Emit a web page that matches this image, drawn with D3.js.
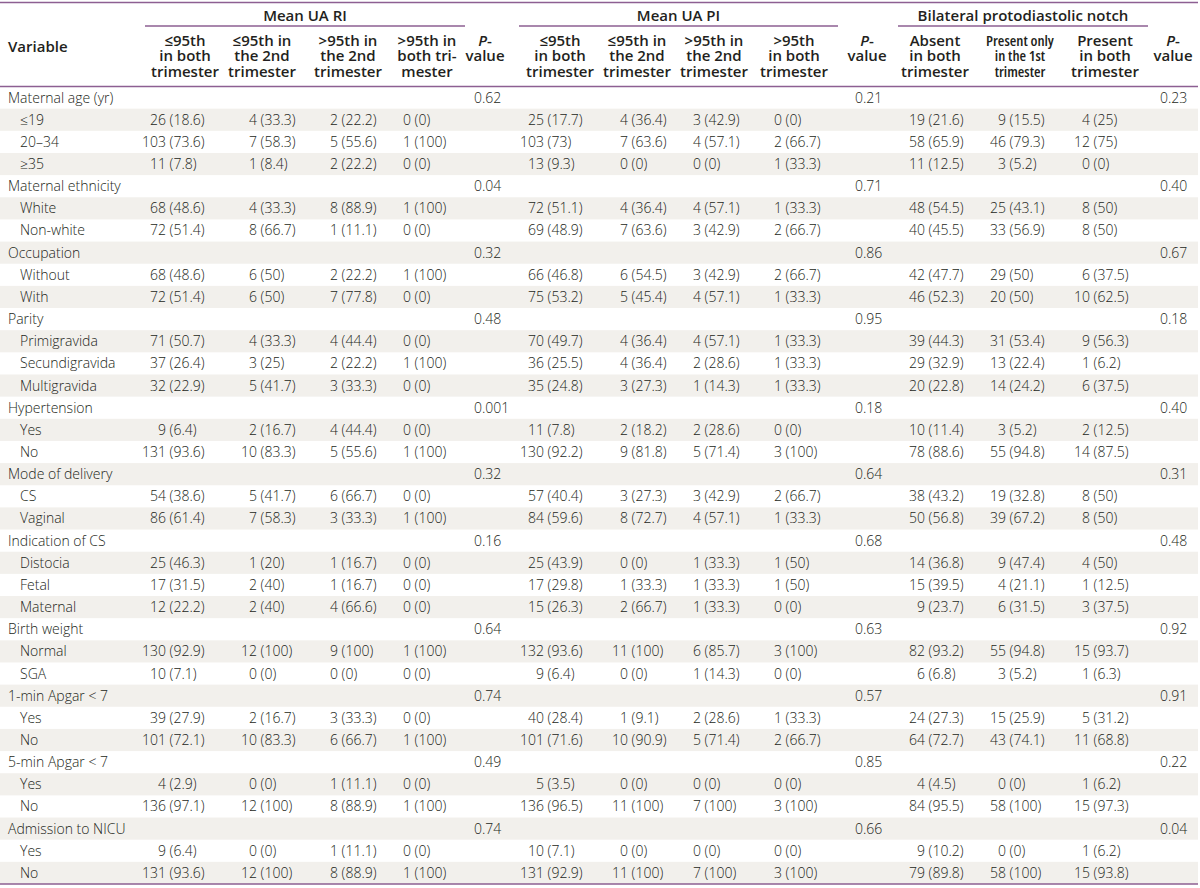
<!DOCTYPE html>
<html>
<head>
<meta charset="utf-8">
<script src="https://cdn.jsdelivr.net/npm/d3@7"></script>
<style>
  body { margin: 0; background: #fff; }
  svg { display: block; font-family: "Open Sans", sans-serif; }
</style>
</head>
<body>
<div id="mainGraphic"></div>
<script>
let svgWidth = 1200
let svgHeight = 888

// variables (group rows) and their P-values
const variables = ["Maternal age (yr)", "Maternal ethnicity", "Occupation", "Parity", "Hypertension",
  "Mode of delivery", "Indication of CS", "Birth weight", "1-min Apgar < 7", "5-min Apgar < 7", "Admission to NICU"]
const riP = ["0.62", "0.04", "0.32", "0.48", "0.001", "0.32", "0.16", "0.64", "0.74", "0.49", "0.74"]
const piP = ["0.21", "0.71", "0.86", "0.95", "0.18", "0.64", "0.68", "0.63", "0.57", "0.85", "0.66"]
const notchP = ["0.23", "0.40", "0.67", "0.18", "0.40", "0.31", "0.48", "0.92", "0.91", "0.22", "0.04"]

const subLabels = [
  ["≤19", "20–34", "≥35"], ["White", "Non-white"], ["Without", "With"],
  ["Primigravida", "Secundigravida", "Multigravida"], ["Yes", "No"], ["CS", "Vaginal"],
  ["Distocia", "Fetal", "Maternal"], ["Normal", "SGA"], ["Yes", "No"], ["Yes", "No"], ["Yes", "No"]
]

// Mean UA RI: ≤95th both, ≤95th 2nd, >95th 2nd, >95th both
const riCells = [
  [["26 (18.6)", "4 (33.3)", "2 (22.2)", "0 (0)"], ["103 (73.6)", "7 (58.3)", "5 (55.6)", "1 (100)"], ["11 (7.8)", "1 (8.4)", "2 (22.2)", "0 (0)"]],
  [["68 (48.6)", "4 (33.3)", "8 (88.9)", "1 (100)"], ["72 (51.4)", "8 (66.7)", "1 (11.1)", "0 (0)"]],
  [["68 (48.6)", "6 (50)", "2 (22.2)", "1 (100)"], ["72 (51.4)", "6 (50)", "7 (77.8)", "0 (0)"]],
  [["71 (50.7)", "4 (33.3)", "4 (44.4)", "0 (0)"], ["37 (26.4)", "3 (25)", "2 (22.2)", "1 (100)"], ["32 (22.9)", "5 (41.7)", "3 (33.3)", "0 (0)"]],
  [["9 (6.4)", "2 (16.7)", "4 (44.4)", "0 (0)"], ["131 (93.6)", "10 (83.3)", "5 (55.6)", "1 (100)"]],
  [["54 (38.6)", "5 (41.7)", "6 (66.7)", "0 (0)"], ["86 (61.4)", "7 (58.3)", "3 (33.3)", "1 (100)"]],
  [["25 (46.3)", "1 (20)", "1 (16.7)", "0 (0)"], ["17 (31.5)", "2 (40)", "1 (16.7)", "0 (0)"], ["12 (22.2)", "2 (40)", "4 (66.6)", "0 (0)"]],
  [["130 (92.9)", "12 (100)", "9 (100)", "1 (100)"], ["10 (7.1)", "0 (0)", "0 (0)", "0 (0)"]],
  [["39 (27.9)", "2 (16.7)", "3 (33.3)", "0 (0)"], ["101 (72.1)", "10 (83.3)", "6 (66.7)", "1 (100)"]],
  [["4 (2.9)", "0 (0)", "1 (11.1)", "0 (0)"], ["136 (97.1)", "12 (100)", "8 (88.9)", "1 (100)"]],
  [["9 (6.4)", "0 (0)", "1 (11.1)", "0 (0)"], ["131 (93.6)", "12 (100)", "8 (88.9)", "1 (100)"]]
]

// Mean UA PI
const piCells = [
  [["25 (17.7)", "4 (36.4)", "3 (42.9)", "0 (0)"], ["103 (73)", "7 (63.6)", "4 (57.1)", "2 (66.7)"], ["13 (9.3)", "0 (0)", "0 (0)", "1 (33.3)"]],
  [["72 (51.1)", "4 (36.4)", "4 (57.1)", "1 (33.3)"], ["69 (48.9)", "7 (63.6)", "3 (42.9)", "2 (66.7)"]],
  [["66 (46.8)", "6 (54.5)", "3 (42.9)", "2 (66.7)"], ["75 (53.2)", "5 (45.4)", "4 (57.1)", "1 (33.3)"]],
  [["70 (49.7)", "4 (36.4)", "4 (57.1)", "1 (33.3)"], ["36 (25.5)", "4 (36.4)", "2 (28.6)", "1 (33.3)"], ["35 (24.8)", "3 (27.3)", "1 (14.3)", "1 (33.3)"]],
  [["11 (7.8)", "2 (18.2)", "2 (28.6)", "0 (0)"], ["130 (92.2)", "9 (81.8)", "5 (71.4)", "3 (100)"]],
  [["57 (40.4)", "3 (27.3)", "3 (42.9)", "2 (66.7)"], ["84 (59.6)", "8 (72.7)", "4 (57.1)", "1 (33.3)"]],
  [["25 (43.9)", "0 (0)", "1 (33.3)", "1 (50)"], ["17 (29.8)", "1 (33.3)", "1 (33.3)", "1 (50)"], ["15 (26.3)", "2 (66.7)", "1 (33.3)", "0 (0)"]],
  [["132 (93.6)", "11 (100)", "6 (85.7)", "3 (100)"], ["9 (6.4)", "0 (0)", "1 (14.3)", "0 (0)"]],
  [["40 (28.4)", "1 (9.1)", "2 (28.6)", "1 (33.3)"], ["101 (71.6)", "10 (90.9)", "5 (71.4)", "2 (66.7)"]],
  [["5 (3.5)", "0 (0)", "0 (0)", "0 (0)"], ["136 (96.5)", "11 (100)", "7 (100)", "3 (100)"]],
  [["10 (7.1)", "0 (0)", "0 (0)", "0 (0)"], ["131 (92.9)", "11 (100)", "7 (100)", "3 (100)"]]
]

// Bilateral protodiastolic notch: absent, present only 1st, present both
const notchCells = [
  [["19 (21.6)", "9 (15.5)", "4 (25)"], ["58 (65.9)", "46 (79.3)", "12 (75)"], ["11 (12.5)", "3 (5.2)", "0 (0)"]],
  [["48 (54.5)", "25 (43.1)", "8 (50)"], ["40 (45.5)", "33 (56.9)", "8 (50)"]],
  [["42 (47.7)", "29 (50)", "6 (37.5)"], ["46 (52.3)", "20 (50)", "10 (62.5)"]],
  [["39 (44.3)", "31 (53.4)", "9 (56.3)"], ["29 (32.9)", "13 (22.4)", "1 (6.2)"], ["20 (22.8)", "14 (24.2)", "6 (37.5)"]],
  [["10 (11.4)", "3 (5.2)", "2 (12.5)"], ["78 (88.6)", "55 (94.8)", "14 (87.5)"]],
  [["38 (43.2)", "19 (32.8)", "8 (50)"], ["50 (56.8)", "39 (67.2)", "8 (50)"]],
  [["14 (36.8)", "9 (47.4)", "4 (50)"], ["15 (39.5)", "4 (21.1)", "1 (12.5)"], ["9 (23.7)", "6 (31.5)", "3 (37.5)"]],
  [["82 (93.2)", "55 (94.8)", "15 (93.7)"], ["6 (6.8)", "3 (5.2)", "1 (6.3)"]],
  [["24 (27.3)", "15 (25.9)", "5 (31.2)"], ["64 (72.7)", "43 (74.1)", "11 (68.8)"]],
  [["4 (4.5)", "0 (0)", "1 (6.2)"], ["84 (95.5)", "58 (100)", "15 (97.3)"]],
  [["9 (10.2)", "0 (0)", "1 (6.2)"], ["79 (89.8)", "58 (100)", "15 (93.8)"]]
]

const groupTitles = ["Mean UA RI", "Mean UA PI", "Bilateral protodiastolic notch"]
const columnHeads = [
  ["≤95th", "in both", "trimester"], ["≤95th in", "the 2nd", "trimester"], [">95th in", "the 2nd", "trimester"], [">95th in", "both tri-", "mester"],
  ["≤95th", "in both", "trimester"], ["≤95th in", "the 2nd", "trimester"], [">95th in", "the 2nd", "trimester"], [">95th", "in both", "trimester"],
  ["Absent", "in both", "trimester"], ["Present only", "in the 1st", "trimester"], ["Present", "in both", "trimester"]
]

// layout
const purple = "#8d5f92"
const stripe = "#f2f0ec"
const ink = "#231f20"
const tableLeft = 0, tableRight = 1198
const headBottom = 86.5, tableBottom = 884
const countEnd = [166, 257, 338, 411, 544, 628, 701, 782, 925, 1006, 1090]
const pLeft = [474, 855, 1160]
const headCenter = [185, 262, 348, 427, 560, 637, 714, 794, 935, 1020, 1105]
const pHeadCenter = [485, 867, 1173]
const groupSpan = [[145, 465], [519, 838], [898, 1148]]
const headLines = [45.5, 61, 76.5]

renderTable()

function renderTable() {
  let rows = []
  variables.forEach((v, i) => {
    rows.push({ label: v, group: true, p: [riP[i], piP[i], notchP[i]] })
    subLabels[i].forEach((s, j) => {
      rows.push({ label: s, group: false, cells: riCells[i][j].concat(piCells[i][j], notchCells[i][j]) })
    })
  })

  let graphic = d3.select("#mainGraphic")
    .append("svg")
      .attr("width", svgWidth)
      .attr("height", svgHeight)

  let y = d3.scaleBand()
    .domain(d3.range(rows.length))
    .range([headBottom, tableBottom])

  // stripes
  graphic.append("g")
    .selectAll("rect")
    .data(rows.map((r, i) => i).filter(i => i % 2 == 1))
    .enter()
    .append("rect")
      .attr("x", tableLeft)
      .attr("width", tableRight - tableLeft)
      .attr("y", i => y(i))
      .attr("height", y.bandwidth())
      .style("fill", stripe)

  let body = graphic.append("g")
    .style("font-size", "14px")
    .style("font-weight", 350)
    .style("fill", ink)

  let rowG = body.selectAll("g.row")
    .data(rows)
    .enter()
    .append("g")
      .attr("class", "row")
      .attr("transform", (d, i) => `translate(0,${y(i) + y.bandwidth() / 2 + 5})`)

  rowG.append("text")
    .attr("x", d => d.group ? 8 : 20)
    .text(d => d.label)

  rowG.filter(d => d.group)
    .selectAll("text.p")
    .data(d => d.p)
    .enter()
    .append("text")
      .attr("class", "p")
      .attr("x", (d, k) => pLeft[k])
      .text(d => d)

  let cell = rowG.filter(d => !d.group)
    .selectAll("g.cell")
    .data(d => d.cells)
    .enter()
    .append("g")
      .attr("class", "cell")
  cell.append("text")
    .attr("x", (d, k) => countEnd[k])
    .attr("text-anchor", "end")
    .text(d => d.split(" ")[0])
  cell.append("text")
    .attr("x", (d, k) => countEnd[k] + 3.6)
    .text(d => d.split(" ")[1])

  // header
  let head = graphic.append("g")
    .style("fill", ink)
    .style("font-weight", 600)
    .style("font-size", "15px")
    .style("font-stretch", "94%")

  head.append("text")
    .attr("x", 8)
    .attr("y", 52)
    .text("Variable")

  head.selectAll("text.group")
    .data(groupTitles)
    .enter()
    .append("text")
      .attr("class", "group")
      .attr("x", (d, k) => (groupSpan[k][0] + groupSpan[k][1]) / 2)
      .attr("y", 20.5)
      .attr("text-anchor", "middle")
      .text(d => d)

  head.selectAll("text.col")
    .data(columnHeads)
    .enter()
    .append("text")
      .attr("class", "col")
      .attr("text-anchor", "middle")
      .style("font-stretch", (d, k) => k == 9 ? "75%" : null)
      .selectAll("tspan")
      .data((d, k) => d.map(t => ({ t, k })))
      .enter()
      .append("tspan")
        .attr("x", d => headCenter[d.k])
        .attr("y", (d, n) => headLines[n])
        .text(d => d.t)

  let pHead = head.selectAll("text.phead")
    .data(pHeadCenter)
    .enter()
    .append("g")
  pHead.append("text")
    .attr("x", d => d)
    .attr("y", headLines[0])
    .attr("text-anchor", "middle")
    .call(t => {
      t.append("tspan").style("font-style", "italic").text("P")
      t.append("tspan").text("-")
    })
  pHead.append("text")
    .attr("x", d => d)
    .attr("y", headLines[1])
    .attr("text-anchor", "middle")
    .text("value")

  // rules
  let rules = graphic.append("g")
    .style("stroke", purple)
    .style("stroke-width", 1.5)
  rules.selectAll("line.full")
    .data([2.5, headBottom, tableBottom])
    .enter()
    .append("line")
      .attr("x1", tableLeft)
      .attr("x2", tableRight)
      .attr("y1", d => d)
      .attr("y2", d => d)
  rules.selectAll("line.span")
    .data(groupSpan)
    .enter()
    .append("line")
      .attr("x1", d => d[0])
      .attr("x2", d => d[1])
      .attr("y1", 26)
      .attr("y2", 26)
}
</script>
</body>
</html>
